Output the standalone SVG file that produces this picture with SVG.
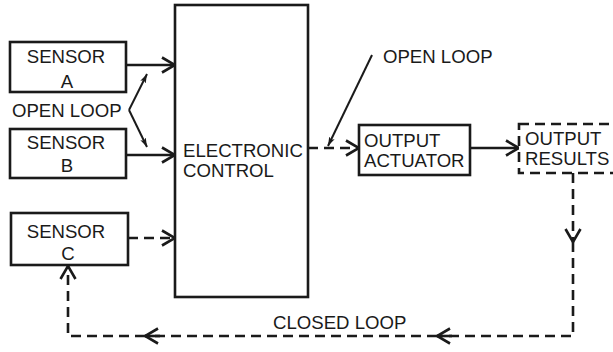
<svg xmlns="http://www.w3.org/2000/svg" width="613" height="352" viewBox="0 0 613 352">
<defs>
<style>
.box{fill:#fff;stroke:#1a1a1a;stroke-width:2.6}
.dbox{fill:#fff;stroke:#1a1a1a;stroke-width:2.6;stroke-dasharray:10 6}
.t{font-family:"Liberation Sans",Arial,sans-serif;font-size:18.6px;fill:#1a1a1a}
.ln{fill:none;stroke:#1a1a1a;stroke-width:2.6}
.dl{fill:none;stroke:#1a1a1a;stroke-width:2.6;stroke-dasharray:10 6}
.ld{fill:none;stroke:#1a1a1a;stroke-width:2}
</style>
<marker id="chev" markerUnits="userSpaceOnUse" markerWidth="16" markerHeight="18" refX="14" refY="9" orient="auto" viewBox="0 0 16 18">
<path d="M1,1.5 L14,9 L1,16.5" fill="none" stroke="#1a1a1a" stroke-width="2.6"/>
</marker>
<marker id="tip" markerUnits="userSpaceOnUse" markerWidth="10" markerHeight="8" refX="9" refY="4" orient="auto" viewBox="0 0 10 8">
<path d="M0,1 L9,4 L0,7 L2,4 Z" fill="#1a1a1a"/>
</marker>
</defs>

<g id="connectors">
<path class="ln" d="M126,65 H175" marker-end="url(#chev)"/>
<path class="ln" d="M126,155 H175" marker-end="url(#chev)"/>
<path class="dl" d="M128,238 H175" marker-end="url(#chev)"/>
<path class="dl" d="M308,148 H359" marker-end="url(#chev)"/>
<path class="ln" d="M470,148 H519" marker-end="url(#chev)"/>
<path class="dl" d="M573,173 V242" marker-end="url(#chev)"/>
<path class="dl" d="M573,242 V336 H437"/>
<path class="ln" d="M452,336 H437" marker-end="url(#chev)"/>
<path class="dl" d="M437,336 H145"/>
<path class="ln" d="M160,336 H145" marker-end="url(#chev)"/>
<path class="dl" d="M145,336 H68 V266" marker-end="url(#chev)"/>
<path class="ld" d="M129,110 L147,74" marker-end="url(#tip)"/>
<path class="ld" d="M129,110 L147,147" marker-end="url(#tip)"/>
<path class="ld" d="M372,55 L328,146" marker-end="url(#tip)"/>
</g>

<g id="sensorA">
<rect class="box" x="10" y="42" width="116" height="50"/>
<text class="t" x="66" y="63" text-anchor="middle">SENSOR</text>
<text class="t" x="67" y="88" text-anchor="middle">A</text>
</g>

<g id="sensorB">
<rect class="box" x="10" y="129" width="116" height="49"/>
<text class="t" x="66" y="149" text-anchor="middle">SENSOR</text>
<text class="t" x="67" y="172" text-anchor="middle">B</text>
</g>

<g id="sensorC">
<rect class="box" x="11" y="213" width="117" height="52"/>
<text class="t" x="66" y="238" text-anchor="middle">SENSOR</text>
<text class="t" x="68" y="260" text-anchor="middle">C</text>
</g>

<g id="electronicControl">
<rect class="box" x="175" y="5" width="133" height="292"/>
<text class="t" x="183" y="157">ELECTRONIC</text>
<text class="t" x="183" y="177">CONTROL</text>
</g>

<g id="outputActuator">
<rect class="box" x="359" y="125" width="111" height="50"/>
<text class="t" x="364" y="147">OUTPUT</text>
<text class="t" x="364" y="167">ACTUATOR</text>
</g>

<g id="outputResults">
<rect class="dbox" x="519" y="124" width="98" height="49"/>
<text class="t" x="525" y="145">OUTPUT</text>
<text class="t" x="525" y="165">RESULTS</text>
</g>

<g id="labels">
<text class="t" x="12" y="117">OPEN LOOP</text>
<text class="t" x="383" y="63">OPEN LOOP</text>
<text class="t" x="273" y="329">CLOSED LOOP</text>
</g>
</svg>
